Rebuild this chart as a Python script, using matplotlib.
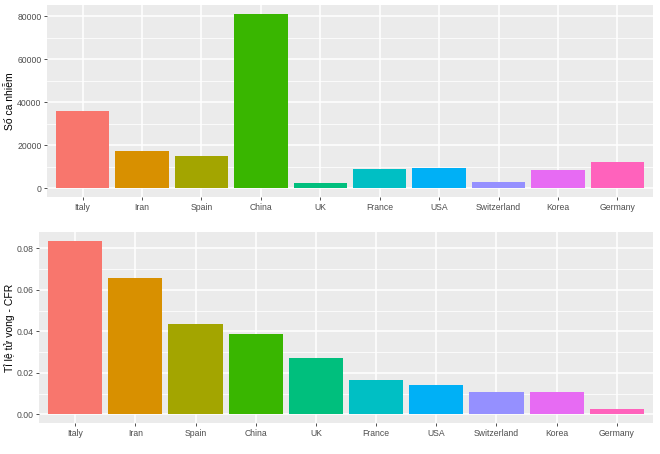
import matplotlib
matplotlib.use("Agg")
import matplotlib.pyplot as plt
from matplotlib.ticker import MultipleLocator
from matplotlib.transforms import blended_transform_factory

countries = ["Italy", "Iran", "Spain", "China", "UK", "France", "USA",
             "Switzerland", "Korea", "Germany"]
cases = [35713, 17361, 14769, 81102, 2642, 9134, 9415, 3028, 8413, 12327]
cfr = [0.0837, 0.0656, 0.0435, 0.0389, 0.0270, 0.0165, 0.0143, 0.0109,
       0.0107, 0.0024]
colors = ["#F8766D", "#D89000", "#A3A500", "#39B600", "#00BF7D",
          "#00BFC4", "#00B0F6", "#9590FF", "#E76BF3", "#FF62BC"]

plt.rcParams["font.family"] = ["Liberation Sans", "DejaVu Sans"]

W, H = 660, 454
fig = plt.figure(figsize=(W / 100, H / 100), dpi=100)


def panel(left, top, right, bottom):
    return fig.add_axes([left / W, 1 - bottom / H, (right - left) / W, (bottom - top) / H])


def style(ax, values, ylabel, major, minor, fmt):
    x = range(1, len(values) + 1)
    ax.bar(x, values, width=0.9, color=colors, zorder=3)
    ax.set_facecolor("#EBEBEB")
    for s in ax.spines.values():
        s.set_visible(False)
    ax.set_xlim(0.4, len(values) + 0.6)
    ax.set_ylim(-max(values) * 0.05, max(values) * 1.05)
    ax.set_xticks(list(x))
    ax.set_xticklabels(countries)
    ax.yaxis.set_major_locator(MultipleLocator(major))
    ax.yaxis.set_minor_locator(MultipleLocator(minor))
    ax.yaxis.set_major_formatter(fmt)
    ax.grid(which="major", color="white", linewidth=1.1, zorder=0)
    ax.grid(which="minor", axis="y", color="white", linewidth=0.55, zorder=0)
    ax.tick_params(which="major", length=2, width=0.6, color="#333333",
                   labelsize=6.2, labelcolor="#4D4D4D", pad=2)
    ax.tick_params(which="minor", length=0)
    ax.set_ylabel(ylabel, fontsize=7.5, color="black")
    # same x for both y titles, like ggplot's aligned plots
    ax.yaxis.set_label_coords(15 / W, 0.5,
                              transform=blended_transform_factory(fig.transFigure, ax.transAxes))


ax1 = panel(47, 5, 653, 197)
style(ax1, cases, "Số ca nhiễm", 20000, 10000, lambda v, p: f"{v:.0f}")

ax2 = panel(39, 232, 653, 423)
style(ax2, cfr, "Tỉ lệ tử vong - CFR", 0.02, 0.01, lambda v, p: f"{v:.2f}")

fig.savefig("out.png", dpi=100)
